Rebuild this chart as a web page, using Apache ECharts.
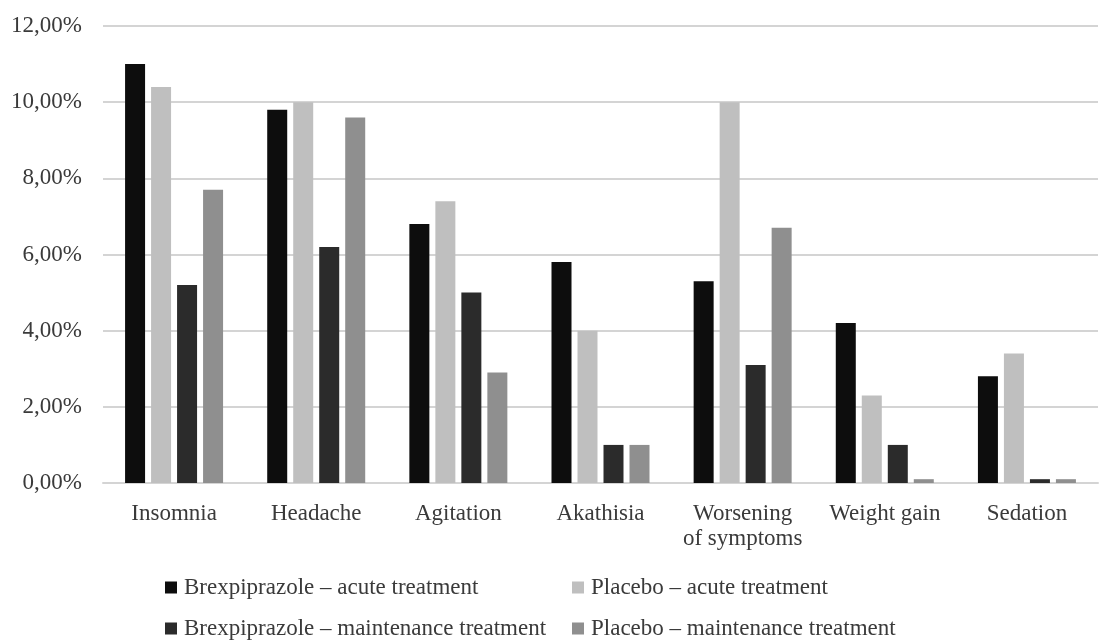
<!DOCTYPE html>
<html>
<head>
<meta charset="utf-8">
<script src="https://cdn.jsdelivr.net/npm/echarts@6/dist/echarts.min.js"></script>
<style>
  html, body { margin: 0; padding: 0; background: #fff; }
  #chart { width: 1099px; height: 641px; }
</style>
</head>
<body>
<div id="chart"></div>
<script>
// categories and values (percent)
var categories = ['Insomnia', 'Headache', 'Agitation', 'Akathisia', 'Worsening\nof symptoms', 'Weight gain', 'Sedation'];
var seriesNames = [
  'Brexpiprazole – acute treatment',
  'Placebo – acute treatment',
  'Brexpiprazole – maintenance treatment',
  'Placebo – maintenance treatment'
];
var brexAcute = [11.0, 9.8, 6.8, 5.8, 5.3, 4.2, 2.8];
var placeboAcute = [10.4, 10.0, 7.4, 4.0, 10.0, 2.3, 3.4];
var brexMaint = [5.2, 6.2, 5.0, 1.0, 3.1, 1.0, 0.1];
var placeboMaint = [7.7, 9.6, 2.9, 1.0, 6.7, 0.1, 0.1];
var yTicks = { min: 0, max: 12, interval: 2 };

var font = '"Liberation Serif", "DejaVu Serif", serif';
var textColor = '#3a3a3a';

var myChart = echarts.init(document.getElementById('chart'));

function bar(name, data, color) {
  return {
    name: name,
    type: 'bar',
    data: data,
    barWidth: 20,
    barGap: '30%',
    itemStyle: { color: color }
  };
}

// one legend per item so the 2x2 layout matches
function legendAt(name, left, top) {
  return {
    left: left,
    top: top,
    itemWidth: 12,
    itemHeight: 12,
    icon: 'rect',
    textStyle: { fontFamily: font, fontSize: 23, color: textColor, padding: [0, 0, 0, 2] },
    data: [name]
  };
}

var option = {
  backgroundColor: '#fff',
  animation: false,
  textStyle: { fontFamily: font },
  grid: { left: 103, right: 1, top: 26, bottom: 158, containLabel: false },
  legend: [
    legendAt(seriesNames[0], 160, 571),
    legendAt(seriesNames[2], 160, 612),
    legendAt(seriesNames[1], 567, 571),
    legendAt(seriesNames[3], 567, 612)
  ],
  xAxis: {
    type: 'category',
    data: categories,
    axisTick: { show: false },
    axisLine: { lineStyle: { color: '#d4d4d4', width: 2 } },
    axisLabel: {
      fontFamily: font,
      fontSize: 23,
      color: textColor,
      margin: 18,
      lineHeight: 25,
      interval: 0
    }
  },
  yAxis: {
    type: 'value',
    min: yTicks.min,
    max: yTicks.max,
    interval: yTicks.interval,
    axisLine: { show: false },
    axisTick: { show: false },
    splitLine: { lineStyle: { color: '#d4d4d4', width: 2 } },
    axisLabel: {
      fontFamily: font,
      fontSize: 23,
      color: textColor,
      margin: 21,
      formatter: function (v) { return v.toFixed(2).replace('.', ',') + '%'; }
    }
  },
  series: [
    bar(seriesNames[0], brexAcute, '#0d0d0d'),
    bar(seriesNames[1], placeboAcute, '#bfbfbf'),
    bar(seriesNames[2], brexMaint, '#2b2b2b'),
    bar(seriesNames[3], placeboMaint, '#8f8f8f')
  ]
};

myChart.setOption(option);
window.addEventListener('resize', function () { myChart.resize(); });
</script>
</body>
</html>
